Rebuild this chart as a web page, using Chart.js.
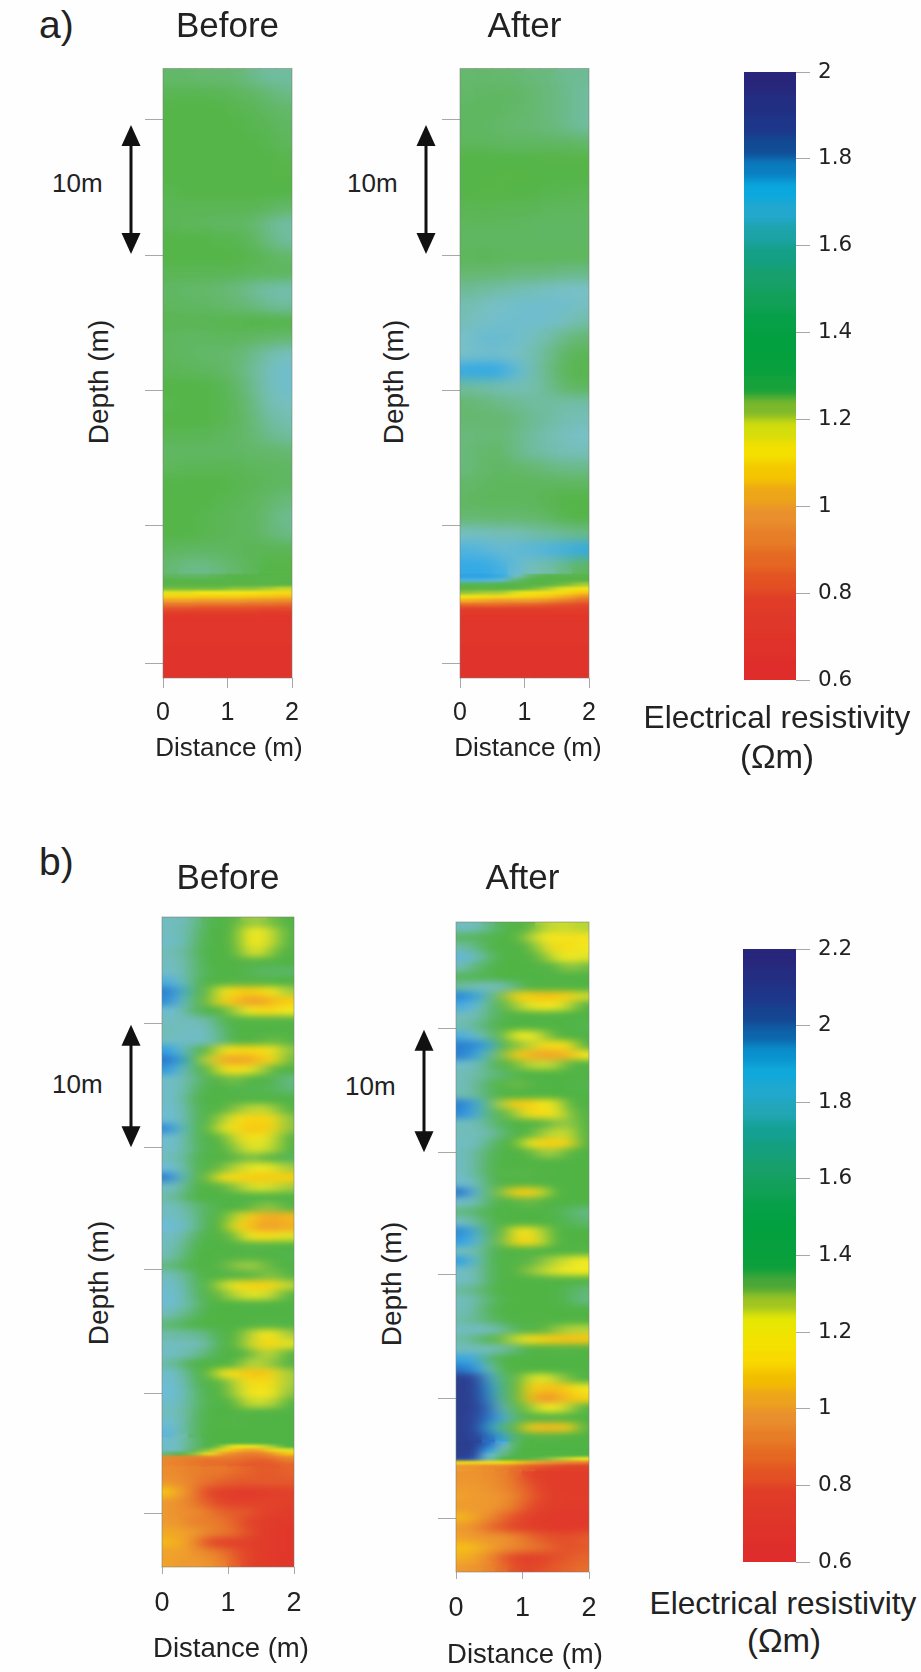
<!DOCTYPE html>
<html>
<head>
<meta charset="utf-8">
<title>Electrical resistivity before and after</title>
<script src="https://cdn.jsdelivr.net/npm/chart.js@4/dist/chart.umd.min.js"></script>
<style>
  html, body { margin: 0; padding: 0; background: #fefefe; }
  #page { position: relative; width: 921px; height: 1672px; overflow: hidden; background: #fefefe; }
  #page canvas { position: absolute; }
  .lbl { position: absolute; white-space: nowrap; line-height: 1; color: #222; font-family: "Liberation Sans", Arial, sans-serif; }
</style>
</head>
<body>
<div id="page"></div>
<script>
// distance columns (m) of the resistivity sections
const aColumns = [0.125, 0.375, 0.625, 0.875, 1.125, 1.375, 1.625, 1.875];
const bColumns = [0.1, 0.3, 0.5, 0.7, 0.9, 1.1, 1.3, 1.5, 1.7, 1.9];
const distanceTicks = [0, 1, 2];

// depth grid: [number of rows, row thickness in m]
const aRowRuns = [[31, 1.2], [10, 0.3], [2, 2.35]];
const bRowRuns = [[53, 0.8], [8, 0.3], [10, 0.826]];
const aDepthTicks = [3.75, 13.75, 23.7, 33.7, 43.8];
const bDepthTicks = [8.7, 18.8, 28.8, 38.9, 48.7];
const aArrow = [4.16, 13.66];
const bArrow = [8.8, 18.8];

// resistivity (ohm m), one line per depth row
const aBefore = [
  [1.4,1.4,1.42,1.42,1.42,1.46,1.5,1.5],
  [1.34,1.33,1.33,1.34,1.36,1.38,1.42,1.46],
  [1.3,1.3,1.3,1.3,1.32,1.34,1.38,1.4],
  [1.3,1.3,1.3,1.3,1.3,1.32,1.34,1.38],
  [1.3,1.3,1.3,1.3,1.3,1.3,1.32,1.36],
  [1.3,1.3,1.3,1.3,1.3,1.3,1.3,1.32],
  [1.3,1.3,1.3,1.3,1.3,1.3,1.28,1.28],
  [1.32,1.3,1.3,1.3,1.3,1.3,1.3,1.3],
  [1.34,1.34,1.34,1.34,1.34,1.34,1.36,1.4],
  [1.34,1.36,1.36,1.38,1.38,1.4,1.46,1.52],
  [1.3,1.3,1.3,1.32,1.32,1.36,1.44,1.5],
  [1.3,1.3,1.3,1.3,1.3,1.32,1.36,1.4],
  [1.34,1.34,1.34,1.34,1.34,1.36,1.36,1.36],
  [1.38,1.4,1.4,1.42,1.44,1.48,1.52,1.54],
  [1.36,1.38,1.38,1.4,1.42,1.44,1.48,1.5],
  [1.34,1.34,1.34,1.32,1.32,1.3,1.3,1.3],
  [1.36,1.38,1.38,1.36,1.36,1.38,1.4,1.42],
  [1.36,1.38,1.4,1.4,1.42,1.46,1.52,1.58],
  [1.34,1.36,1.36,1.38,1.42,1.48,1.56,1.62],
  [1.3,1.3,1.3,1.32,1.38,1.46,1.56,1.62],
  [1.32,1.3,1.3,1.32,1.36,1.44,1.54,1.58],
  [1.3,1.3,1.3,1.32,1.36,1.42,1.5,1.54],
  [1.34,1.34,1.34,1.36,1.38,1.42,1.46,1.5],
  [1.38,1.38,1.38,1.38,1.38,1.4,1.4,1.42],
  [1.36,1.34,1.34,1.34,1.34,1.36,1.36,1.38],
  [1.3,1.3,1.3,1.3,1.32,1.34,1.36,1.38],
  [1.3,1.3,1.3,1.32,1.34,1.36,1.4,1.44],
  [1.3,1.3,1.32,1.34,1.36,1.36,1.42,1.48],
  [1.3,1.3,1.32,1.34,1.36,1.36,1.42,1.46],
  [1.36,1.38,1.38,1.38,1.36,1.34,1.34,1.34],
  [1.42,1.46,1.46,1.44,1.4,1.36,1.3,1.28],
  [1.36,1.38,1.38,1.34,1.3,1.3,1.28,1.28],
  [1.28,1.28,1.28,1.28,1.28,1.28,1.28,1.28],
  [1.26,1.26,1.26,1.26,1.26,1.26,1.26,1.26],
  [1.24,1.24,1.24,1.24,1.22,1.22,1.2,1.18],
  [1.16,1.16,1.15,1.15,1.15,1.14,1.13,1.12],
  [1.1,1.1,1.09,1.09,1.09,1.08,1.07,1.06],
  [1.01,1.01,1.0,1.0,1.0,0.99,0.98,0.97],
  [0.92,0.92,0.91,0.91,0.91,0.9,0.9,0.89],
  [0.84,0.84,0.83,0.83,0.83,0.83,0.82,0.82],
  [0.76,0.76,0.76,0.75,0.75,0.75,0.74,0.74],
  [0.66,0.66,0.65,0.65,0.65,0.65,0.65,0.65],
  [0.62,0.62,0.62,0.62,0.62,0.62,0.62,0.62]
];
const aAfter = [
  [1.42,1.4,1.42,1.42,1.44,1.44,1.48,1.48],
  [1.4,1.38,1.38,1.38,1.42,1.44,1.46,1.5],
  [1.38,1.36,1.38,1.4,1.42,1.44,1.46,1.5],
  [1.38,1.38,1.4,1.42,1.42,1.44,1.46,1.5],
  [1.36,1.36,1.38,1.38,1.38,1.38,1.38,1.4],
  [1.3,1.3,1.3,1.3,1.3,1.28,1.27,1.28],
  [1.3,1.3,1.28,1.28,1.28,1.3,1.3,1.3],
  [1.3,1.28,1.28,1.3,1.3,1.32,1.32,1.34],
  [1.34,1.32,1.34,1.34,1.34,1.36,1.36,1.36],
  [1.36,1.36,1.36,1.36,1.38,1.38,1.38,1.38],
  [1.38,1.38,1.38,1.38,1.38,1.38,1.38,1.38],
  [1.36,1.34,1.36,1.36,1.36,1.36,1.36,1.36],
  [1.42,1.42,1.42,1.44,1.44,1.44,1.46,1.46],
  [1.48,1.5,1.52,1.54,1.56,1.58,1.6,1.6],
  [1.54,1.58,1.6,1.62,1.62,1.62,1.62,1.58],
  [1.56,1.6,1.62,1.62,1.62,1.62,1.58,1.52],
  [1.6,1.64,1.64,1.62,1.58,1.52,1.46,1.42],
  [1.6,1.62,1.62,1.6,1.54,1.48,1.38,1.34],
  [1.74,1.75,1.74,1.66,1.56,1.46,1.36,1.32],
  [1.5,1.52,1.54,1.56,1.54,1.48,1.4,1.36],
  [1.42,1.44,1.46,1.48,1.5,1.5,1.52,1.52],
  [1.42,1.42,1.42,1.44,1.48,1.5,1.54,1.56],
  [1.44,1.44,1.42,1.46,1.5,1.54,1.58,1.6],
  [1.44,1.4,1.4,1.46,1.5,1.52,1.56,1.56],
  [1.44,1.4,1.38,1.4,1.42,1.44,1.46,1.46],
  [1.4,1.38,1.36,1.36,1.36,1.36,1.36,1.36],
  [1.38,1.36,1.36,1.36,1.36,1.34,1.3,1.3],
  [1.42,1.42,1.4,1.42,1.4,1.38,1.32,1.3],
  [1.58,1.58,1.56,1.56,1.52,1.5,1.48,1.46],
  [1.7,1.68,1.64,1.66,1.68,1.7,1.72,1.74],
  [1.74,1.74,1.72,1.64,1.56,1.52,1.46,1.36],
  [1.76,1.76,1.74,1.58,1.36,1.3,1.28,1.28],
  [1.7,1.7,1.66,1.4,1.3,1.28,1.26,1.26],
  [1.32,1.32,1.3,1.28,1.26,1.26,1.24,1.2],
  [1.26,1.26,1.26,1.26,1.24,1.2,1.16,1.14],
  [1.22,1.2,1.2,1.16,1.14,1.13,1.12,1.08],
  [1.14,1.13,1.12,1.12,1.1,1.08,1.04,0.98],
  [1.04,1.02,1.0,1.0,1.0,0.98,0.94,0.9],
  [0.9,0.9,0.9,0.88,0.88,0.86,0.84,0.82],
  [0.78,0.78,0.78,0.78,0.78,0.78,0.78,0.78],
  [0.72,0.72,0.72,0.72,0.72,0.72,0.72,0.72],
  [0.66,0.66,0.65,0.65,0.65,0.65,0.65,0.65],
  [0.62,0.62,0.62,0.62,0.62,0.62,0.62,0.62]
];
const bBefore = [
  [1.72,1.72,1.65,1.52,1.48,1.40,1.32,1.32,1.36,1.46],
  [1.72,1.72,1.62,1.50,1.48,1.38,1.24,1.24,1.30,1.44],
  [1.75,1.74,1.60,1.50,1.48,1.38,1.24,1.22,1.30,1.46],
  [1.70,1.68,1.58,1.50,1.50,1.44,1.28,1.26,1.36,1.48],
  [1.72,1.70,1.60,1.50,1.50,1.46,1.38,1.40,1.44,1.50],
  [1.74,1.72,1.60,1.52,1.50,1.50,1.52,1.56,1.56,1.56],
  [1.85,1.76,1.58,1.50,1.46,1.40,1.38,1.40,1.44,1.50],
  [1.98,1.85,1.56,1.40,1.24,1.16,1.12,1.16,1.24,1.32],
  [1.95,1.80,1.54,1.36,1.18,1.10,1.02,1.02,1.10,1.14],
  [1.78,1.72,1.56,1.50,1.42,1.32,1.24,1.18,1.18,1.24],
  [1.72,1.72,1.70,1.68,1.54,1.48,1.44,1.40,1.40,1.42],
  [1.70,1.72,1.74,1.72,1.60,1.50,1.50,1.48,1.50,1.50],
  [1.72,1.74,1.76,1.72,1.62,1.50,1.46,1.38,1.36,1.44],
  [1.90,1.80,1.56,1.38,1.22,1.18,1.16,1.18,1.22,1.34],
  [2.0,1.88,1.54,1.28,1.06,1.02,1.04,1.10,1.20,1.36],
  [1.92,1.78,1.56,1.46,1.22,1.18,1.22,1.30,1.40,1.50],
  [1.75,1.72,1.62,1.52,1.40,1.34,1.42,1.48,1.54,1.62],
  [1.75,1.72,1.58,1.50,1.50,1.52,1.52,1.52,1.54,1.60],
  [1.75,1.70,1.52,1.48,1.48,1.46,1.44,1.44,1.48,1.50],
  [1.78,1.72,1.56,1.50,1.46,1.34,1.30,1.28,1.32,1.44],
  [1.78,1.75,1.56,1.48,1.32,1.22,1.16,1.14,1.20,1.34],
  [1.95,1.78,1.54,1.44,1.26,1.20,1.12,1.12,1.18,1.34],
  [1.78,1.72,1.56,1.50,1.40,1.28,1.20,1.22,1.28,1.42],
  [1.76,1.72,1.58,1.50,1.46,1.34,1.26,1.26,1.30,1.46],
  [1.72,1.68,1.54,1.48,1.46,1.40,1.34,1.36,1.42,1.54],
  [1.80,1.72,1.54,1.46,1.36,1.30,1.26,1.24,1.26,1.32],
  [1.98,1.78,1.52,1.36,1.20,1.18,1.14,1.12,1.14,1.14],
  [1.74,1.68,1.50,1.46,1.40,1.34,1.28,1.26,1.28,1.32],
  [1.68,1.62,1.50,1.50,1.50,1.50,1.48,1.46,1.46,1.50],
  [1.72,1.70,1.60,1.55,1.50,1.48,1.40,1.34,1.34,1.42],
  [1.75,1.72,1.64,1.52,1.48,1.30,1.16,1.06,1.04,1.08],
  [1.80,1.76,1.66,1.50,1.46,1.20,1.12,1.02,1.02,1.06],
  [1.74,1.70,1.56,1.50,1.48,1.36,1.24,1.18,1.20,1.26],
  [1.72,1.66,1.52,1.50,1.50,1.46,1.40,1.38,1.42,1.50],
  [1.70,1.62,1.50,1.50,1.48,1.46,1.44,1.46,1.50,1.52],
  [1.62,1.56,1.50,1.48,1.38,1.34,1.32,1.34,1.38,1.50],
  [1.72,1.68,1.54,1.50,1.44,1.42,1.40,1.36,1.34,1.42],
  [1.76,1.72,1.56,1.48,1.30,1.22,1.16,1.14,1.18,1.30],
  [1.78,1.74,1.58,1.50,1.36,1.30,1.26,1.26,1.30,1.42],
  [1.78,1.72,1.62,1.50,1.50,1.50,1.48,1.48,1.50,1.50],
  [1.70,1.64,1.56,1.50,1.50,1.50,1.50,1.50,1.50,1.50],
  [1.60,1.55,1.50,1.50,1.50,1.50,1.48,1.40,1.40,1.48],
  [1.68,1.66,1.66,1.60,1.50,1.46,1.32,1.22,1.22,1.32],
  [1.72,1.72,1.70,1.66,1.50,1.46,1.30,1.18,1.16,1.26],
  [1.74,1.72,1.66,1.58,1.50,1.50,1.40,1.30,1.30,1.40],
  [1.68,1.60,1.50,1.50,1.50,1.42,1.30,1.30,1.34,1.46],
  [1.76,1.72,1.52,1.42,1.22,1.20,1.12,1.10,1.18,1.32],
  [1.78,1.74,1.56,1.50,1.38,1.30,1.20,1.18,1.20,1.32],
  [1.80,1.76,1.60,1.50,1.50,1.32,1.22,1.22,1.22,1.34],
  [1.76,1.72,1.60,1.52,1.50,1.38,1.28,1.28,1.30,1.44],
  [1.72,1.70,1.58,1.50,1.50,1.48,1.44,1.46,1.48,1.50],
  [1.78,1.72,1.56,1.50,1.46,1.44,1.50,1.50,1.50,1.50],
  [1.82,1.70,1.56,1.50,1.50,1.50,1.50,1.50,1.50,1.50],
  [1.76,1.7,1.6,1.5,1.5,1.5,1.5,1.5,1.5,1.5],
  [1.76,1.7,1.6,1.5,1.5,1.44,1.42,1.46,1.5,1.5],
  [1.76,1.7,1.6,1.5,1.34,1.24,1.22,1.26,1.32,1.46],
  [1.74,1.7,1.56,1.34,1.2,1.1,1.02,1.04,1.2,1.26],
  [1.6,1.5,1.34,1.2,1.02,0.96,0.92,0.92,1.0,1.12],
  [0.95,0.93,0.92,0.92,0.92,0.9,0.88,0.88,0.9,0.95],
  [0.94,0.92,0.9,0.88,0.88,0.88,0.86,0.84,0.86,0.9],
  [0.94,0.92,0.9,0.88,0.88,0.86,0.84,0.84,0.84,0.86],
  [0.96,0.94,0.92,0.9,0.9,0.88,0.86,0.84,0.84,0.86],
  [0.98,0.96,0.92,0.88,0.86,0.84,0.84,0.84,0.84,0.84],
  [1.12,1.0,0.92,0.8,0.74,0.70,0.68,0.70,0.74,0.76],
  [1.0,0.96,0.9,0.84,0.8,0.76,0.76,0.78,0.78,0.76],
  [1.0,0.96,0.96,0.9,0.86,0.84,0.84,0.8,0.76,0.72],
  [1.0,0.98,0.92,0.92,0.9,0.86,0.8,0.74,0.7,0.68],
  [1.04,1.02,1.0,0.94,0.9,0.88,0.82,0.74,0.68,0.66],
  [1.08,1.04,0.96,0.82,0.76,0.76,0.76,0.72,0.68,0.66],
  [1.02,1.02,0.98,0.94,0.9,0.84,0.78,0.72,0.68,0.66],
  [1.02,1.0,1.0,0.98,0.94,0.86,0.78,0.72,0.68,0.66]
];
const bAfter = [
  [1.72,1.72,1.62,1.52,1.46,1.38,1.3,1.28,1.28,1.3],
  [1.56,1.56,1.52,1.5,1.42,1.32,1.24,1.22,1.2,1.22],
  [1.68,1.62,1.52,1.5,1.48,1.4,1.28,1.2,1.18,1.24],
  [1.82,1.74,1.58,1.5,1.5,1.46,1.36,1.26,1.24,1.26],
  [1.7,1.6,1.52,1.5,1.5,1.5,1.46,1.38,1.32,1.36],
  [1.55,1.54,1.52,1.5,1.5,1.5,1.5,1.5,1.5,1.5],
  [1.66,1.7,1.72,1.7,1.6,1.5,1.46,1.44,1.46,1.5],
  [1.95,1.88,1.66,1.36,1.16,1.14,1.1,1.12,1.14,1.28],
  [1.86,1.8,1.62,1.46,1.32,1.26,1.22,1.24,1.3,1.46],
  [1.72,1.7,1.6,1.52,1.5,1.48,1.46,1.48,1.5,1.5],
  [1.7,1.64,1.56,1.5,1.5,1.5,1.5,1.5,1.5,1.52],
  [1.85,1.76,1.62,1.4,1.24,1.24,1.3,1.42,1.5,1.5],
  [1.98,1.95,1.86,1.44,1.34,1.3,1.18,1.18,1.2,1.38],
  [1.98,1.88,1.66,1.36,1.14,1.08,1.02,1.04,1.08,1.24],
  [1.76,1.72,1.6,1.5,1.36,1.3,1.28,1.3,1.38,1.48],
  [1.7,1.68,1.62,1.58,1.52,1.5,1.5,1.5,1.5,1.5],
  [1.72,1.66,1.55,1.46,1.36,1.38,1.48,1.5,1.5,1.52],
  [1.7,1.66,1.56,1.5,1.48,1.5,1.5,1.5,1.5,1.5],
  [1.98,1.86,1.6,1.3,1.12,1.14,1.22,1.22,1.4,1.48],
  [1.95,1.85,1.6,1.44,1.32,1.2,1.16,1.24,1.34,1.46],
  [1.72,1.7,1.62,1.54,1.5,1.46,1.4,1.34,1.32,1.44],
  [1.7,1.72,1.68,1.6,1.5,1.44,1.32,1.28,1.28,1.44],
  [1.74,1.72,1.62,1.5,1.38,1.24,1.14,1.14,1.18,1.42],
  [1.72,1.66,1.56,1.5,1.5,1.42,1.32,1.32,1.4,1.5],
  [1.74,1.66,1.54,1.5,1.5,1.5,1.5,1.5,1.5,1.5],
  [1.74,1.66,1.54,1.46,1.4,1.4,1.46,1.5,1.5,1.5],
  [1.78,1.7,1.56,1.5,1.46,1.44,1.5,1.5,1.5,1.5],
  [2.0,1.8,1.56,1.34,1.14,1.12,1.28,1.5,1.5,1.5],
  [1.76,1.7,1.56,1.5,1.4,1.36,1.46,1.5,1.5,1.5],
  [1.62,1.58,1.52,1.5,1.5,1.5,1.5,1.52,1.56,1.62],
  [1.74,1.66,1.54,1.5,1.5,1.5,1.5,1.5,1.54,1.58],
  [1.95,1.84,1.56,1.38,1.22,1.2,1.3,1.5,1.5,1.5],
  [1.9,1.82,1.58,1.36,1.18,1.16,1.28,1.48,1.5,1.5],
  [1.72,1.7,1.56,1.5,1.46,1.44,1.5,1.5,1.5,1.42],
  [1.9,1.75,1.54,1.5,1.42,1.38,1.34,1.3,1.26,1.24],
  [1.74,1.7,1.56,1.5,1.46,1.34,1.3,1.26,1.24,1.24],
  [1.74,1.7,1.56,1.5,1.5,1.5,1.48,1.46,1.46,1.46],
  [1.66,1.62,1.54,1.5,1.5,1.5,1.5,1.5,1.54,1.6],
  [1.72,1.68,1.58,1.52,1.5,1.5,1.5,1.5,1.54,1.62],
  [1.72,1.66,1.54,1.5,1.5,1.5,1.5,1.5,1.5,1.5],
  [1.68,1.64,1.58,1.52,1.5,1.46,1.46,1.5,1.5,1.5],
  [1.72,1.74,1.72,1.66,1.54,1.46,1.38,1.34,1.3,1.3],
  [1.68,1.62,1.52,1.36,1.28,1.2,1.14,1.12,1.1,1.12],
  [1.72,1.72,1.7,1.68,1.6,1.5,1.46,1.44,1.42,1.46],
  [1.88,1.86,1.6,1.5,1.5,1.5,1.5,1.5,1.5,1.5],
  [2.0,1.92,1.72,1.5,1.46,1.5,1.5,1.5,1.5,1.5],
  [2.2,2.16,1.86,1.58,1.44,1.28,1.24,1.3,1.36,1.5],
  [2.2,2.18,1.92,1.6,1.5,1.16,1.1,1.1,1.14,1.24],
  [2.2,2.18,1.95,1.62,1.5,1.14,0.96,1.02,1.1,1.16],
  [2.2,2.18,2.02,1.7,1.5,1.34,1.24,1.24,1.3,1.42],
  [2.2,2.14,2.0,1.85,1.58,1.5,1.44,1.44,1.46,1.5],
  [2.2,2.14,1.9,1.6,1.5,1.14,1.08,1.08,1.14,1.4],
  [2.2,2.16,2.02,1.88,1.56,1.5,1.4,1.44,1.5,1.5],
  [2.2,2.18,2.02,1.82,1.56,1.5,1.5,1.5,1.5,1.5],
  [2.2,2.16,1.96,1.7,1.54,1.5,1.5,1.5,1.5,1.5],
  [2.2,2.14,1.88,1.66,1.52,1.5,1.5,1.5,1.5,1.5],
  [2.18,2.1,1.8,1.62,1.5,1.5,1.5,1.5,1.5,1.5],
  [2.15,2.05,1.74,1.5,1.46,1.4,1.36,1.32,1.28,1.24],
  [1.2,1.2,1.2,1.2,1.14,1.06,1.0,0.96,0.94,0.92],
  [1.0,0.98,0.96,0.94,0.9,0.86,0.84,0.82,0.8,0.8],
  [1.0,0.98,0.96,0.92,0.88,0.84,0.8,0.76,0.74,0.74],
  [0.98,0.98,0.96,0.94,0.88,0.8,0.74,0.72,0.72,0.72],
  [1.0,1.0,0.98,0.94,0.9,0.84,0.76,0.72,0.7,0.7],
  [1.02,1.0,1.0,0.98,0.92,0.86,0.8,0.74,0.72,0.72],
  [1.0,1.0,1.0,0.96,0.9,0.82,0.76,0.72,0.7,0.7],
  [1.08,1.02,0.96,0.88,0.82,0.76,0.72,0.68,0.68,0.68],
  [1.0,0.96,0.88,0.84,0.8,0.76,0.7,0.68,0.68,0.7],
  [1.02,1.0,0.98,0.98,0.94,0.88,0.84,0.82,0.82,0.84],
  [1.1,1.08,1.02,0.98,0.94,0.9,0.88,0.84,0.82,0.84],
  [1.06,1.02,0.96,0.86,0.78,0.74,0.78,0.82,0.84,0.86],
  [1.0,0.98,0.94,0.88,0.82,0.8,0.82,0.84,0.86,0.88]
];

// colour scale as it shows in the sections (washed out compared to the legend bar)
const aCellLevels = [0.6,0.8,0.9,1.0,1.08,1.15,1.2,1.26,1.3,1.42,1.5,1.6,1.7,1.75,1.85,2];
const aCellColors = ['#e0322b','#e2402a','#e86a2a','#ee9a2e','#f8c810','#f4ea18','#a8cc38','#5ab548','#55b548','#66b870','#70bca0','#78c0c8','#50b4e0','#2ea8e6','#2a70c0','#2c3f90'];
const bCellLevels = [0.6,0.8,0.9,1.0,1.13,1.24,1.32,1.38,1.5,1.6,1.7,1.8,1.9,2.0,2.1,2.2];
const bCellColors = ['#e0322b','#e2442a','#e87a2c','#ee9a30','#f8cc10','#f2ea20','#a0cc40','#58b548','#50b445','#60b878','#72bcb8','#6cbcd8','#2ea0e2','#2a78cc','#2c4aa0','#2c3f90'];

// legend bars
const aBarEdges = [0.6,0.65,0.7,0.75,0.8,0.85,0.9,0.95,1,1.05,1.1,1.15,1.2,1.25,1.3,1.35,1.4,1.45,1.5,1.55,1.6,1.65,1.7,1.75,1.8,1.85,1.9,1.95,2];
const bBarEdges = [0.6,0.65,0.7,0.75,0.8,0.85,0.9,0.95,1,1.05,1.1,1.15,1.2,1.25,1.3,1.35,1.4,1.45,1.5,1.55,1.6,1.65,1.7,1.75,1.8,1.85,1.9,1.95,2,2.05,2.1,2.15,2.2];
const aBarLevels = [0.6,0.78,0.85,0.9,1,1.05,1.1,1.16,1.2,1.25,1.28,1.4,1.5,1.6,1.66,1.73,1.78,1.82,1.85,2];
const bBarLevels = [0.6,0.78,0.85,0.9,1,1.06,1.12,1.22,1.27,1.32,1.37,1.5,1.6,1.72,1.8,1.9,1.95,2,2.05,2.2];
const barColors = ['#de2a2c','#e03c28','#e45c20','#e67424','#ea9830','#f0b400','#f8d800','#eeea00','#a8c820','#50a838','#0aa03c','#00a040','#18a060','#12a090','#2aa8c8','#08a8e0','#0a78bc','#0f4f96','#1b3a8c','#2a2278'];
const aBarTicks = [0.6,0.8,1,1.2,1.4,1.6,1.8,2];
const bBarTicks = [0.6,0.8,1,1.2,1.4,1.6,1.8,2,2.2];

const FONT = '"Liberation Sans", Arial, sans-serif';
const page = document.getElementById('page');

const hexRgb = h => [1, 3, 5].map(i => parseInt(h.substr(i, 2), 16));

function colorFor(v, levels, colors) {
  if (v <= levels[0]) return colors[0];
  for (let i = 1; i < levels.length; i++) {
    if (v <= levels[i]) {
      const t = (v - levels[i - 1]) / (levels[i] - levels[i - 1]);
      const a = hexRgb(colors[i - 1]), b = hexRgb(colors[i]);
      return 'rgb(' + a.map((c, k) => Math.round(c + (b[k] - c) * t)).join(',') + ')';
    }
  }
  return colors[colors.length - 1];
}

// soften the blocky cells: re-draw bands of the plot blurred over themselves
const softenCells = {
  id: 'softenCells',
  afterDatasetsDraw(chart, args, opts) {
    const { left, right, top, bottom } = chart.chartArea;
    const ctx = chart.ctx, y = chart.scales.y;
    const w = Math.round(right - left);
    const layers = opts.bands.map(([from, to, sx, sy]) => {
      const y0 = Math.max(top, Math.min(y.getPixelForValue(from), y.getPixelForValue(to)));
      const y1 = Math.min(bottom, Math.max(y.getPixelForValue(from), y.getPixelForValue(to)));
      const h = Math.round(y1 - y0);
      const k = sy / sx, pad = 30;
      const cut = document.createElement('canvas');
      cut.width = Math.ceil(w * k) + pad * 2; cut.height = h + pad * 2;
      const c = cut.getContext('2d');
      // repeat the edges outwards so the blur does not fade at the border
      c.drawImage(chart.canvas, left, y0, 1, h, 0, pad, pad, h);
      c.drawImage(chart.canvas, right - 1, y0, 1, h, cut.width - pad, pad, pad, h);
      c.drawImage(chart.canvas, left, y0, w, h, pad, pad, cut.width - pad * 2, h);
      const soft = document.createElement('canvas');
      soft.width = cut.width; soft.height = cut.height;
      const s = soft.getContext('2d');
      s.filter = 'blur(' + sy + 'px)';
      s.drawImage(cut, 0, 0);
      return { soft, y0, h, pad, sw: cut.width - pad * 2 };
    });
    layers.forEach(l => {
      ctx.save();
      ctx.beginPath();
      ctx.rect(left, l.y0, w, l.h);
      ctx.clip();
      ctx.drawImage(l.soft, l.pad, l.pad, l.sw, l.h, left, l.y0, w, l.h);
      ctx.restore();
    });
  }
};

// thin frame round the plot
const plotFrame = {
  id: 'plotFrame',
  afterDraw(chart) {
    const { left, top, width, height } = chart.chartArea;
    const ctx = chart.ctx;
    ctx.save();
    ctx.strokeStyle = 'rgba(120,130,120,0.55)';
    ctx.lineWidth = 1;
    ctx.strokeRect(left, top, width, height);
    ctx.restore();
  }
};

// the double headed 10 m arrow, placed on the depth axis
const depthArrow = {
  id: 'depthArrow',
  afterDraw(chart, args, opts) {
    if (!opts.span) return;
    const ctx = chart.ctx, y = chart.scales.y;
    const x = chart.chartArea.left - opts.offset;
    const y0 = y.getPixelForValue(opts.span[0]), y1 = y.getPixelForValue(opts.span[1]);
    ctx.save();
    ctx.strokeStyle = ctx.fillStyle = '#111';
    ctx.lineWidth = 3;
    ctx.beginPath(); ctx.moveTo(x, y0 + 10); ctx.lineTo(x, y1 - 10); ctx.stroke();
    ctx.beginPath(); ctx.moveTo(x, y0); ctx.lineTo(x - 9.5, y0 + 21); ctx.lineTo(x + 9.5, y0 + 21); ctx.closePath(); ctx.fill();
    ctx.beginPath(); ctx.moveTo(x, y1); ctx.lineTo(x - 9.5, y1 - 21); ctx.lineTo(x + 9.5, y1 - 21); ctx.closePath(); ctx.fill();
    ctx.restore();
  }
};

function addCanvas(left, top, width, height) {
  const c = document.createElement('canvas');
  c.width = width; c.height = height;
  c.style.left = left + 'px'; c.style.top = top + 'px';
  c.style.width = width + 'px'; c.style.height = height + 'px';
  page.appendChild(c);
  return c;
}

function addLabel(text, x, baseline, size, opts) {
  opts = opts || {};
  const el = document.createElement('div');
  el.className = 'lbl';
  el.textContent = text;
  el.style.fontSize = size + 'px';
  if (opts.rotate) {
    // x is the baseline, baseline is the middle of the text along the axis
    el.style.left = (x - 0.3465 * size) + 'px';
    el.style.top = baseline + 'px';
    el.style.transform = 'translate(-50%,-50%) rotate(-90deg)';
  } else {
    el.style.left = x + 'px';
    el.style.top = (baseline - 0.8465 * size) + 'px';
    if (opts.center) el.style.transform = 'translateX(-50%)';
  }
  page.appendChild(el);
}

function rowEdges(runs) {
  const edges = [0];
  runs.forEach(([n, t]) => { for (let i = 0; i < n; i++) edges.push(edges[edges.length - 1] + t); });
  return edges;
}

function drawSection(cfg) {
  const { plot, titleTop, titleSize, tickSize, bottomY } = cfg;
  const edges = rowEdges(cfg.runs);
  const lineH = titleSize * 1.2;
  const canvas = addCanvas(plot.l - 45, titleTop, 45 + plot.w + 28, bottomY - titleTop);
  const datasets = cfg.rows.map((row, r) => ({
    label: 'row ' + r,
    xAxisID: 'cells',
    data: row.map(() => [edges[r], edges[r + 1]]),
    backgroundColor: row.map(v => colorFor(v, cfg.levels, cfg.colors)),
    borderWidth: 0,
    inflateAmount: 0.7,
    barPercentage: 1,
    categoryPercentage: 1
  }));
  return new Chart(canvas, {
    type: 'bar',
    data: { labels: cfg.columns, datasets },
    plugins: [softenCells, depthArrow, plotFrame],
    options: {
      responsive: false,
      animation: false,
      events: [],
      layout: { padding: { right: 28 } },
      plugins: {
        legend: { display: false },
        tooltip: { enabled: false },
        title: {
          display: true, text: cfg.title, fullSize: false, color: '#222',
          font: { family: FONT, size: titleSize, weight: 'normal', lineHeight: 1.2 },
          padding: { top: 0, bottom: plot.t - titleTop - lineH }
        },
        softenCells: { bands: cfg.bands },
        depthArrow: { span: cfg.arrow, offset: cfg.arrowOffset }
      },
      scales: {
        cells: { type: 'category', axis: 'x', display: false, stacked: true, offset: true },
        x: {
          type: 'linear', position: 'bottom', min: 0, max: 2, offset: false,
          afterBuildTicks: s => { s.ticks = distanceTicks.map(value => ({ value })); },
          afterFit: s => { s.height = bottomY - plot.t - plot.h; },
          grid: { drawOnChartArea: false, offset: false, tickLength: cfg.xTickLen, color: '#a8a8a8' },
          border: { display: false },
          ticks: { maxRotation: 0, color: '#222', padding: cfg.xTickPad, font: { family: FONT, size: tickSize, lineHeight: 1.2 } }
        },
        y: {
          type: 'linear', position: 'left', reverse: true, min: 0, max: edges[edges.length - 1],
          afterBuildTicks: s => { s.ticks = cfg.depthTicks.map(value => ({ value })); },
          afterFit: s => { s.width = 45; },
          grid: { drawOnChartArea: false, tickLength: 18, color: '#a8a8a8' },
          border: { display: false },
          ticks: { display: false }
        }
      }
    }
  });
}

function drawLegendBar(cfg) {
  const { plot } = cfg;
  const canvas = addCanvas(plot.l, plot.t - 22, plot.w + 110, plot.h + 44);
  const datasets = cfg.edges.slice(0, -1).map((e, i) => ({
    label: String(e),
    data: [[e, cfg.edges[i + 1]]],
    backgroundColor: colorFor(e + (cfg.edges[i + 1] - e) / 2, cfg.levels, barColors),
    borderWidth: 0,
    inflateAmount: 0.7,
    barPercentage: 1,
    categoryPercentage: 1
  }));
  return new Chart(canvas, {
    type: 'bar',
    data: { labels: ['Electrical resistivity'], datasets },
    plugins: [softenCells],
    options: {
      responsive: false,
      animation: false,
      events: [],
      layout: { padding: { top: 22, bottom: 22 } },
      plugins: {
        legend: { display: false },
        tooltip: { enabled: false },
        softenCells: { bands: [[cfg.edges[0], cfg.edges[cfg.edges.length - 1], 5, 5]] }
      },
      scales: {
        x: { display: false, stacked: true },
        y: {
          type: 'linear', position: 'right', min: cfg.edges[0], max: cfg.edges[cfg.edges.length - 1],
          afterBuildTicks: s => { s.ticks = cfg.ticks.map(value => ({ value })); },
          afterFit: s => { s.width = 110; },
          grid: { drawOnChartArea: false, tickLength: 14, color: '#a8a8a8' },
          border: { display: false },
          ticks: {
            color: '#222', padding: 8,
            font: { family: '"DejaVu Sans", sans-serif', size: 21.5 },
            callback: v => String(v)
          }
        }
      }
    }
  });
}

drawSection({
  title: 'Before', rows: aBefore, columns: aColumns, runs: aRowRuns, depthTicks: aDepthTicks,
  levels: aCellLevels, colors: aCellColors, arrow: aArrow, arrowOffset: 32,
  plot: { l: 163, t: 68.5, w: 129, h: 609.5 }, titleTop: 6, titleSize: 35, tickSize: 25, bottomY: 762,
  xTickLen: 10, xTickPad: 10, bands: [[0, 37.2, 10, 6], [37.2, 40.2, 4, 1.2], [40.2, 44.9, 6, 3]]
});
drawSection({
  title: 'After', rows: aAfter, columns: aColumns, runs: aRowRuns, depthTicks: aDepthTicks,
  levels: aCellLevels, colors: aCellColors, arrow: aArrow, arrowOffset: 34,
  plot: { l: 460, t: 68.5, w: 129, h: 609.5 }, titleTop: 6, titleSize: 35, tickSize: 25, bottomY: 762,
  xTickLen: 10, xTickPad: 10, bands: [[0, 37.2, 10, 6], [37.2, 40.2, 6, 1.2], [40.2, 44.9, 6, 3]]
});
drawSection({
  title: 'Before', rows: bBefore, columns: bColumns, runs: bRowRuns, depthTicks: bDepthTicks,
  levels: bCellLevels, colors: bCellColors, arrow: bArrow, arrowOffset: 31,
  plot: { l: 162, t: 917, w: 132, h: 650 }, titleTop: 858, titleSize: 35, tickSize: 27, bottomY: 1664,
  xTickLen: 7, xTickPad: 13, bands: [[0, 42.4, 8, 3], [42.4, 44.8, 5, 1], [44.8, 53.06, 8, 3.5]]
});
drawSection({
  title: 'After', rows: bAfter, columns: bColumns, runs: bRowRuns, depthTicks: bDepthTicks,
  levels: bCellLevels, colors: bCellColors, arrow: bArrow, arrowOffset: 32,
  plot: { l: 456, t: 922, w: 133, h: 650 }, titleTop: 858, titleSize: 35, tickSize: 27, bottomY: 1670,
  xTickLen: 7, xTickPad: 13, bands: [[0, 42.4, 8, 3], [42.4, 44.8, 5, 1], [44.8, 53.06, 8, 3.5]]
});

drawLegendBar({ edges: aBarEdges, levels: aBarLevels, ticks: aBarTicks, plot: { l: 744, t: 72, w: 52, h: 608 } });
drawLegendBar({ edges: bBarEdges, levels: bBarLevels, ticks: bBarTicks, plot: { l: 743, t: 949, w: 53, h: 613 } });

// panel letters and the text that sits off the axes
addLabel('a)', 39, 38, 39);
addLabel('b)', 39, 875, 39);
addLabel('10m', 52, 192, 26);
addLabel('10m', 347, 192, 26);
addLabel('10m', 52, 1093, 26);
addLabel('10m', 345, 1095, 26);
addLabel('Depth (m)', 109, 382, 28, { rotate: true });
addLabel('Depth (m)', 404, 382, 28, { rotate: true });
addLabel('Depth (m)', 109, 1283, 28, { rotate: true });
addLabel('Depth (m)', 402, 1284, 28, { rotate: true });
addLabel('Distance (m)', 229, 756, 26, { center: true });
addLabel('Distance (m)', 528, 756, 26, { center: true });
addLabel('Distance (m)', 231, 1657, 27.5, { center: true });
addLabel('Distance (m)', 525, 1663, 27.5, { center: true });
addLabel('Electrical resistivity', 777, 729, 31.6, { center: true });
addLabel('(Ωm)', 777, 768, 33, { center: true });
addLabel('Electrical resistivity', 783, 1615, 31.6, { center: true });
addLabel('(Ωm)', 784, 1652, 33, { center: true });
</script>
</body>
</html>
